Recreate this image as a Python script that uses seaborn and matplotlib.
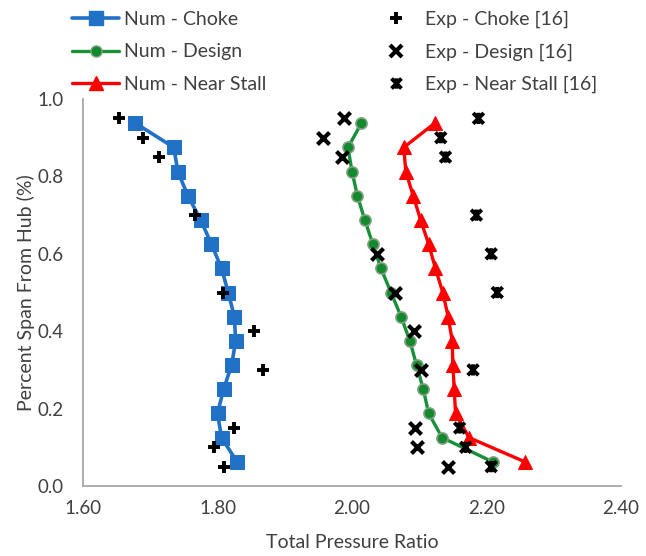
import matplotlib
matplotlib.use("Agg")
import matplotlib.pyplot as plt
from matplotlib.path import Path
from matplotlib.lines import Line2D
import seaborn as sns
import pandas as pd

# Spanwise stations of the CFD profiles (fraction of span from hub)
span_num = [0.9375, 0.875, 0.8125, 0.75, 0.6875, 0.625, 0.5625, 0.5,
            0.4375, 0.375, 0.3125, 0.25, 0.1875, 0.125, 0.0625]
num_choke = [1.678, 1.735, 1.741, 1.756, 1.775, 1.791, 1.806, 1.816,
             1.825, 1.827, 1.821, 1.809, 1.800, 1.806, 1.829]
num_design = [2.014, 1.994, 2.000, 2.008, 2.019, 2.031, 2.043, 2.058,
              2.073, 2.086, 2.096, 2.106, 2.114, 2.134, 2.209]
num_stall = [2.123, 2.077, 2.080, 2.091, 2.102, 2.114, 2.124, 2.135,
             2.143, 2.149, 2.150, 2.152, 2.154, 2.174, 2.257]

# Measured profiles [16]
exp_choke_span = [0.95, 0.90, 0.85, 0.70, 0.50, 0.40, 0.30, 0.15, 0.10, 0.05]
exp_choke = [1.654, 1.689, 1.713, 1.766, 1.808, 1.855, 1.868, 1.824, 1.795, 1.810]
exp_design_span = [0.95, 0.90, 0.85, 0.60, 0.50, 0.40, 0.30, 0.15, 0.10, 0.05]
exp_design = [1.988, 1.957, 1.985, 2.037, 2.064, 2.092, 2.103, 2.093, 2.096, 2.143]
exp_stall_span = [0.95, 0.90, 0.85, 0.70, 0.60, 0.50, 0.30, 0.15, 0.10, 0.05]
exp_stall = [2.188, 2.132, 2.139, 2.185, 2.207, 2.216, 2.180, 2.160, 2.169, 2.207]

x_ticks = [1.60, 1.80, 2.00, 2.20, 2.40]
y_ticks = [0.0, 0.2, 0.4, 0.6, 0.8, 1.0]

sns.set_theme(style="white")
plt.rcParams["font.family"] = ["Lato", "DejaVu Sans"]
TEXT = "#404040"
AXIS = "#A6A6A6"
BLUE = "#2172C7"
GREEN = "#17903A"
RED = "#FF0000"

fig = plt.figure(figsize=(6.46, 5.56), dpi=100)
ax = fig.add_axes([0.1285, 0.1259, 0.8328, 0.696])

# Asterisk-like marker: bold X with a vertical bar
star = Path([(-1, -1), (1, 1), (-1, 1), (1, -1), (0, -1.05), (0, 1.05)],
            [Path.MOVETO, Path.LINETO, Path.MOVETO, Path.LINETO,
             Path.MOVETO, Path.LINETO])

num_df = pd.DataFrame({"span": span_num, "choke": num_choke,
                       "design": num_design, "stall": num_stall})

sns.lineplot(data=num_df, x="choke", y="span", sort=False, orient="y", ax=ax,
             color=BLUE, lw=2.6, marker="s", markersize=9.5,
             markerfacecolor=BLUE, markeredgecolor=BLUE)
sns.lineplot(data=num_df, x="design", y="span", sort=False, orient="y", ax=ax,
             color=GREEN, lw=2.4, marker="o", markersize=8,
             markerfacecolor="#138A2E", markeredgecolor="#7FA07F", markeredgewidth=1.2)
sns.lineplot(data=num_df, x="stall", y="span", sort=False, orient="y", ax=ax,
             color=RED, lw=2.4, marker="^", markersize=10,
             markerfacecolor=RED, markeredgecolor=RED)

sns.scatterplot(x=exp_choke, y=exp_choke_span, ax=ax, marker="+", s=80,
                color="black", linewidth=2.8, zorder=5)
sns.scatterplot(x=exp_design, y=exp_design_span, ax=ax, marker="x", s=75,
                color="black", linewidth=3.0, zorder=5)
sns.scatterplot(x=exp_stall, y=exp_stall_span, ax=ax, marker=star, s=65,
                facecolor="none", edgecolor="black", linewidth=2.8, zorder=5)

ax.set_xlim(1.60, 2.40)
ax.set_ylim(0.0, 1.0)
ax.set_xticks(x_ticks)
ax.set_xticklabels([f"{v:.2f}" for v in x_ticks])
ax.set_yticks(y_ticks)
ax.set_yticklabels([f"{v:.1f}" for v in y_ticks])
ax.set_xlabel("Total Pressure Ratio", fontsize=14, color=TEXT, labelpad=12)
ax.set_ylabel("Percent Span From Hub (%)", fontsize=14, color=TEXT, labelpad=2)
ax.tick_params(axis="both", direction="in", length=5, width=1, color=AXIS,
               labelsize=13.5, labelcolor=TEXT, pad=10)
ax.tick_params(axis="y", pad=14)
for side in ["top", "right"]:
    ax.spines[side].set_visible(False)
for side in ["left", "bottom"]:
    ax.spines[side].set_color(AXIS)
    ax.spines[side].set_linewidth(1.3)

handles = [
    Line2D([], [], color=BLUE, lw=2.6, marker="s", markersize=9.5),
    Line2D([], [], color=GREEN, lw=2.4, marker="o", markersize=8,
           markerfacecolor="#138A2E", markeredgecolor="#7FA07F"),
    Line2D([], [], color=RED, lw=2.4, marker="^", markersize=10),
    Line2D([], [], ls="none", color="black", marker="+", markersize=9, mew=2.8),
    Line2D([], [], ls="none", color="black", marker="x", markersize=8, mew=3.0),
    Line2D([], [], ls="none", color="black", marker=star, markersize=7.5, mew=2.8),
]
labels = ["Num - Choke", "Num - Design", "Num - Near Stall",
          "Exp - Choke [16]", "Exp - Design [16]", "Exp - Near Stall [16]"]
leg = fig.legend(handles, labels, ncol=2, loc="upper left",
                 bbox_to_anchor=(0.099, 0.994), frameon=False, fontsize=14,
                 handlelength=2.45, handletextpad=0.25, columnspacing=5.43,
                 labelspacing=0.78, borderaxespad=0)
for t in leg.get_texts():
    t.set_color(TEXT)

fig.savefig("out.png", dpi=100)
